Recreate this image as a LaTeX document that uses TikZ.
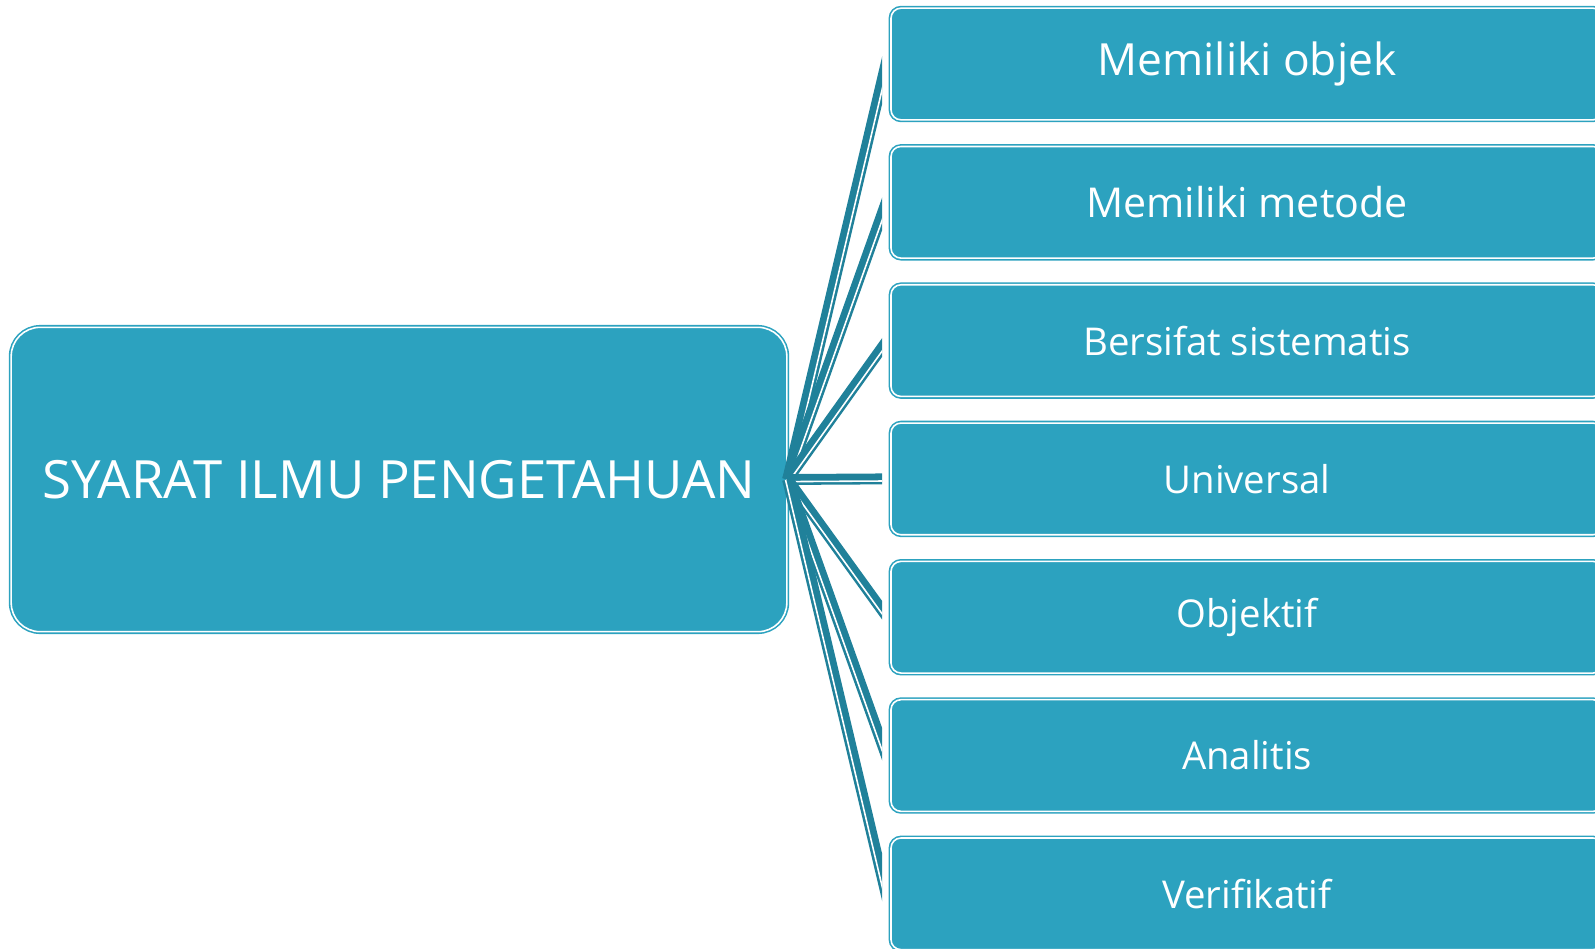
\documentclass[tikz,border=0pt]{standalone}
\usepackage{fontspec}
\setmainfont{Open Sans}
\usetikzlibrary{calc}

\definecolor{boxteal}{RGB}{44,162,191}
\definecolor{linkteal}{RGB}{32,129,154}

\tikzset{
  tealbox/.style={fill=boxteal, draw=boxteal, double=white, line width=0.45pt,
    double distance=0.45pt, inner sep=0pt, text=white},
  rootbox/.style={tealbox, rounded corners=0.29cm, minimum width=7.752cm,
    minimum height=3.042cm, font=\fontsize{15pt}{18pt}\selectfont},
  childbox/.style={tealbox, rounded corners=0.1cm, minimum width=7.116cm,
    minimum height=1.116cm, font=\fontsize{#1}{14pt}\selectfont},
  linkline/.style={linkteal, line width=3.1pt},
  linkgap/.style={white, line width=0.45pt}
}

\begin{document}
\begin{tikzpicture}[x=0.01cm, y=-0.01cm]
  \useasboundingbox (0,0) rectangle (1595,948);
  \def\childgap{9.2}

  \node[rootbox] (root) at (399,479.5) {SYARAT ILMU PENGETAHUAN};

  \foreach \txt/\sz [count=\i] in {Memiliki objek/12.6pt, Memiliki metode/11.7pt,
      Bersifat sistematis/10.9pt, Universal/10.9pt, Objektif/10.9pt,
      Analitis/10.9pt, Verifikatif/10.9pt}
    \node[childbox=\sz] (c\i) at (1247,{64+138.3*(\i-1)}) {\txt};

  % the links stop short of each box; their outer edge meets the box middle
  \coordinate (hub) at (root.east);
  \foreach \dy [count=\i] in {21,14.7,8.4,0,-8.5,-14.5,-21.2}
    \coordinate (t\i) at ($(c\i.west)+(-\childgap,\dy)$);

  \begin{scope}
    \clip (0,0) rectangle (882,948);
    \foreach \i in {1,...,7}{
      \coordinate (e\i) at ($(hub)!1.2!(t\i)$);
      \draw[linkline] (hub) -- (e\i);
      \draw[linkgap] ($(hub)!0.6pt!-90:(e\i)$) -- ($(e\i)!0.6pt!90:(hub)$);
    }
  \end{scope}
\end{tikzpicture}
\end{document}
